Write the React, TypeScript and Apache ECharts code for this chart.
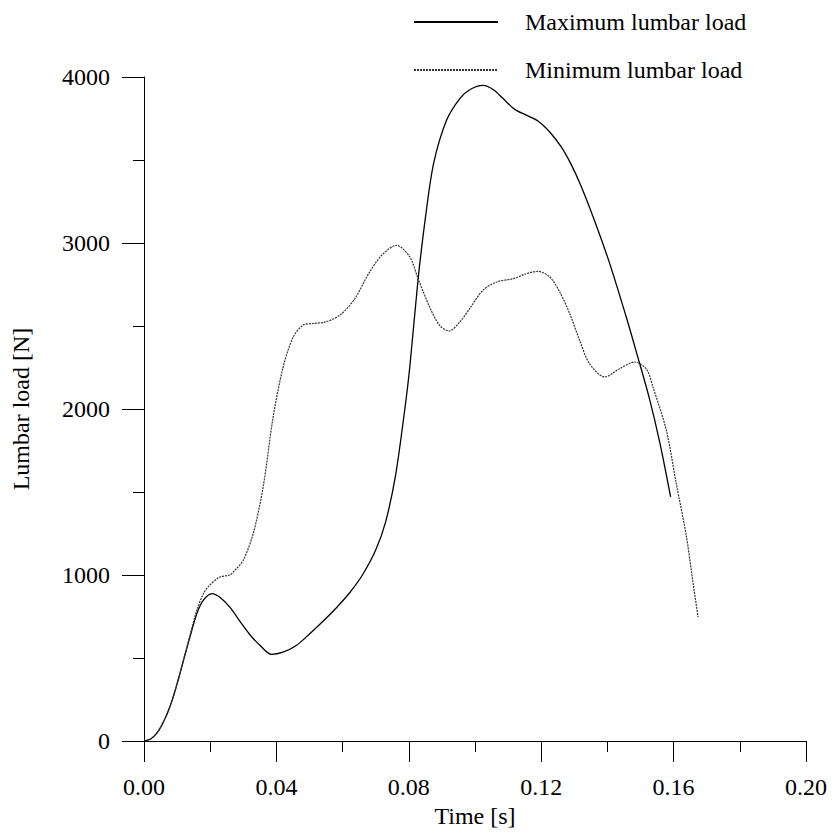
import React, { useEffect, useRef } from "react";
import * as echarts from "echarts";

const maxTime = [0, 0.002, 0.004, 0.006, 0.008, 0.010, 0.012, 0.014, 0.016, 0.018, 0.0205, 0.023, 0.026, 0.029, 0.032, 0.035, 0.0385, 0.042, 0.046, 0.050, 0.054, 0.058, 0.062, 0.066, 0.070, 0.073, 0.076, 0.0788, 0.0803, 0.0828, 0.085, 0.0875, 0.0914, 0.0954, 0.0985, 0.1024, 0.1055, 0.1085, 0.112, 0.1155, 0.119, 0.1225, 0.126, 0.129, 0.132, 0.1362, 0.1407, 0.1457, 0.1488, 0.1526, 0.1558, 0.1591];
const maxLoad = [0, 12, 50, 120, 215, 345, 490, 635, 770, 850, 888, 865, 805, 720, 640, 577, 522, 535, 575, 645, 720, 800, 890, 1000, 1150, 1320, 1600, 2000, 2253, 2780, 3150, 3480, 3739, 3870, 3925, 3950, 3925, 3870, 3805, 3770, 3735, 3670, 3580, 3475, 3345, 3130, 2876, 2554, 2340, 2070, 1800, 1470];

const minTime = [0, 0.002, 0.004, 0.006, 0.008, 0.010, 0.012, 0.014, 0.016, 0.018, 0.0198, 0.0229, 0.0259, 0.0279, 0.030, 0.033, 0.036, 0.039, 0.042, 0.045, 0.048, 0.051, 0.055, 0.0595, 0.0637, 0.068, 0.072, 0.0763, 0.0803, 0.0828, 0.0863, 0.0893, 0.0922, 0.0954, 0.0984, 0.1024, 0.1065, 0.1115, 0.1155, 0.119, 0.1226, 0.1256, 0.1286, 0.1316, 0.1346, 0.1392, 0.1437, 0.1482, 0.1518, 0.1538, 0.1578, 0.1608, 0.1639, 0.1659, 0.1674];
const minLoad = [0, 12, 50, 120, 215, 345, 495, 645, 790, 890, 938, 988, 1000, 1038, 1089, 1250, 1530, 1950, 2250, 2430, 2505, 2515, 2525, 2570, 2665, 2820, 2930, 2986, 2916, 2785, 2614, 2504, 2470, 2524, 2605, 2715, 2765, 2785, 2815, 2829, 2795, 2705, 2575, 2414, 2273, 2193, 2243, 2283, 2240, 2130, 1872, 1551, 1229, 948, 747];

const seriesNames = ["Maximum lumbar load", "Minimum lumbar load"];
const xAxisName = "Time [s]";
const yAxisName = "Lumbar load [N]";

const FONT = "'Liberation Serif', 'Times New Roman', serif";

export default function App() {
  const ref = useRef<HTMLDivElement>(null);
  useEffect(() => {
    if (!ref.current) return;
    const chart = echarts.init(ref.current, null, { renderer: "svg" });
    const pairs = (xs: number[], ys: number[]) => xs.map((x, i) => [x, ys[i]]);
    chart.setOption({
      animation: false,
      backgroundColor: "#ffffff",
      textStyle: { fontFamily: FONT },
      grid: { left: 144, right: 29, top: 77, bottom: 94 },
      legend: {
        orient: "vertical",
        left: 413,
        top: 10,
        padding: 0,
        itemWidth: 84,
        itemHeight: 24,
        itemGap: 24,
        itemStyle: { opacity: 0 },
        textStyle: { fontFamily: FONT, fontSize: 24, color: "#000", padding: [0, 0, 0, 22] },
        data: seriesNames,
      },
      xAxis: {
        type: "value",
        min: 0,
        max: 0.2,
        interval: 0.04,
        name: xAxisName,
        nameLocation: "middle",
        nameGap: 62,
        nameTextStyle: { fontFamily: FONT, fontSize: 24, color: "#000" },
        axisLine: { lineStyle: { color: "#000", width: 1 } },
        axisTick: { show: true, length: 21, lineStyle: { color: "#000", width: 1 } },
        minorTick: { show: true, splitNumber: 2, length: 11, lineStyle: { color: "#000", width: 1 } },
        splitLine: { show: false },
        axisLabel: {
          fontFamily: FONT,
          fontSize: 24,
          color: "#000",
          margin: 34,
          formatter: (v: number) => v.toFixed(2),
        },
      },
      yAxis: {
        type: "value",
        min: 0,
        max: 4000,
        interval: 1000,
        name: yAxisName,
        nameLocation: "middle",
        nameGap: 111,
        nameTextStyle: { fontFamily: FONT, fontSize: 24, color: "#000" },
        axisLine: { show: true, lineStyle: { color: "#000", width: 1 } },
        axisTick: { show: true, length: 22, lineStyle: { color: "#000", width: 1 } },
        minorTick: { show: true, splitNumber: 2, length: 11, lineStyle: { color: "#000", width: 1 } },
        splitLine: { show: false },
        axisLabel: {
          fontFamily: FONT,
          fontSize: 24,
          color: "#000",
          margin: 34,
          formatter: (v: number) => String(Math.round(v)),
        },
      },
      series: [
        {
          name: seriesNames[0],
          type: "line",
          data: pairs(maxTime, maxLoad),
          smooth: 0.3,
          symbol: "none",
          lineStyle: { color: "#000", width: 1.3, type: "solid" },
          itemStyle: { color: "#000" },
        },
        {
          name: seriesNames[1],
          type: "line",
          data: pairs(minTime, minLoad),
          smooth: 0.3,
          symbol: "none",
          lineStyle: { color: "#333", width: 1.2, type: [2, 1] },
          itemStyle: { color: "#333" },
        },
      ],
    });
    return () => chart.dispose();
  }, []);
  return (
    <div
      ref={ref}
      style={{ position: "fixed", left: 0, top: 0, width: 835, height: 835, background: "#fff" }}
    />
  );
}
